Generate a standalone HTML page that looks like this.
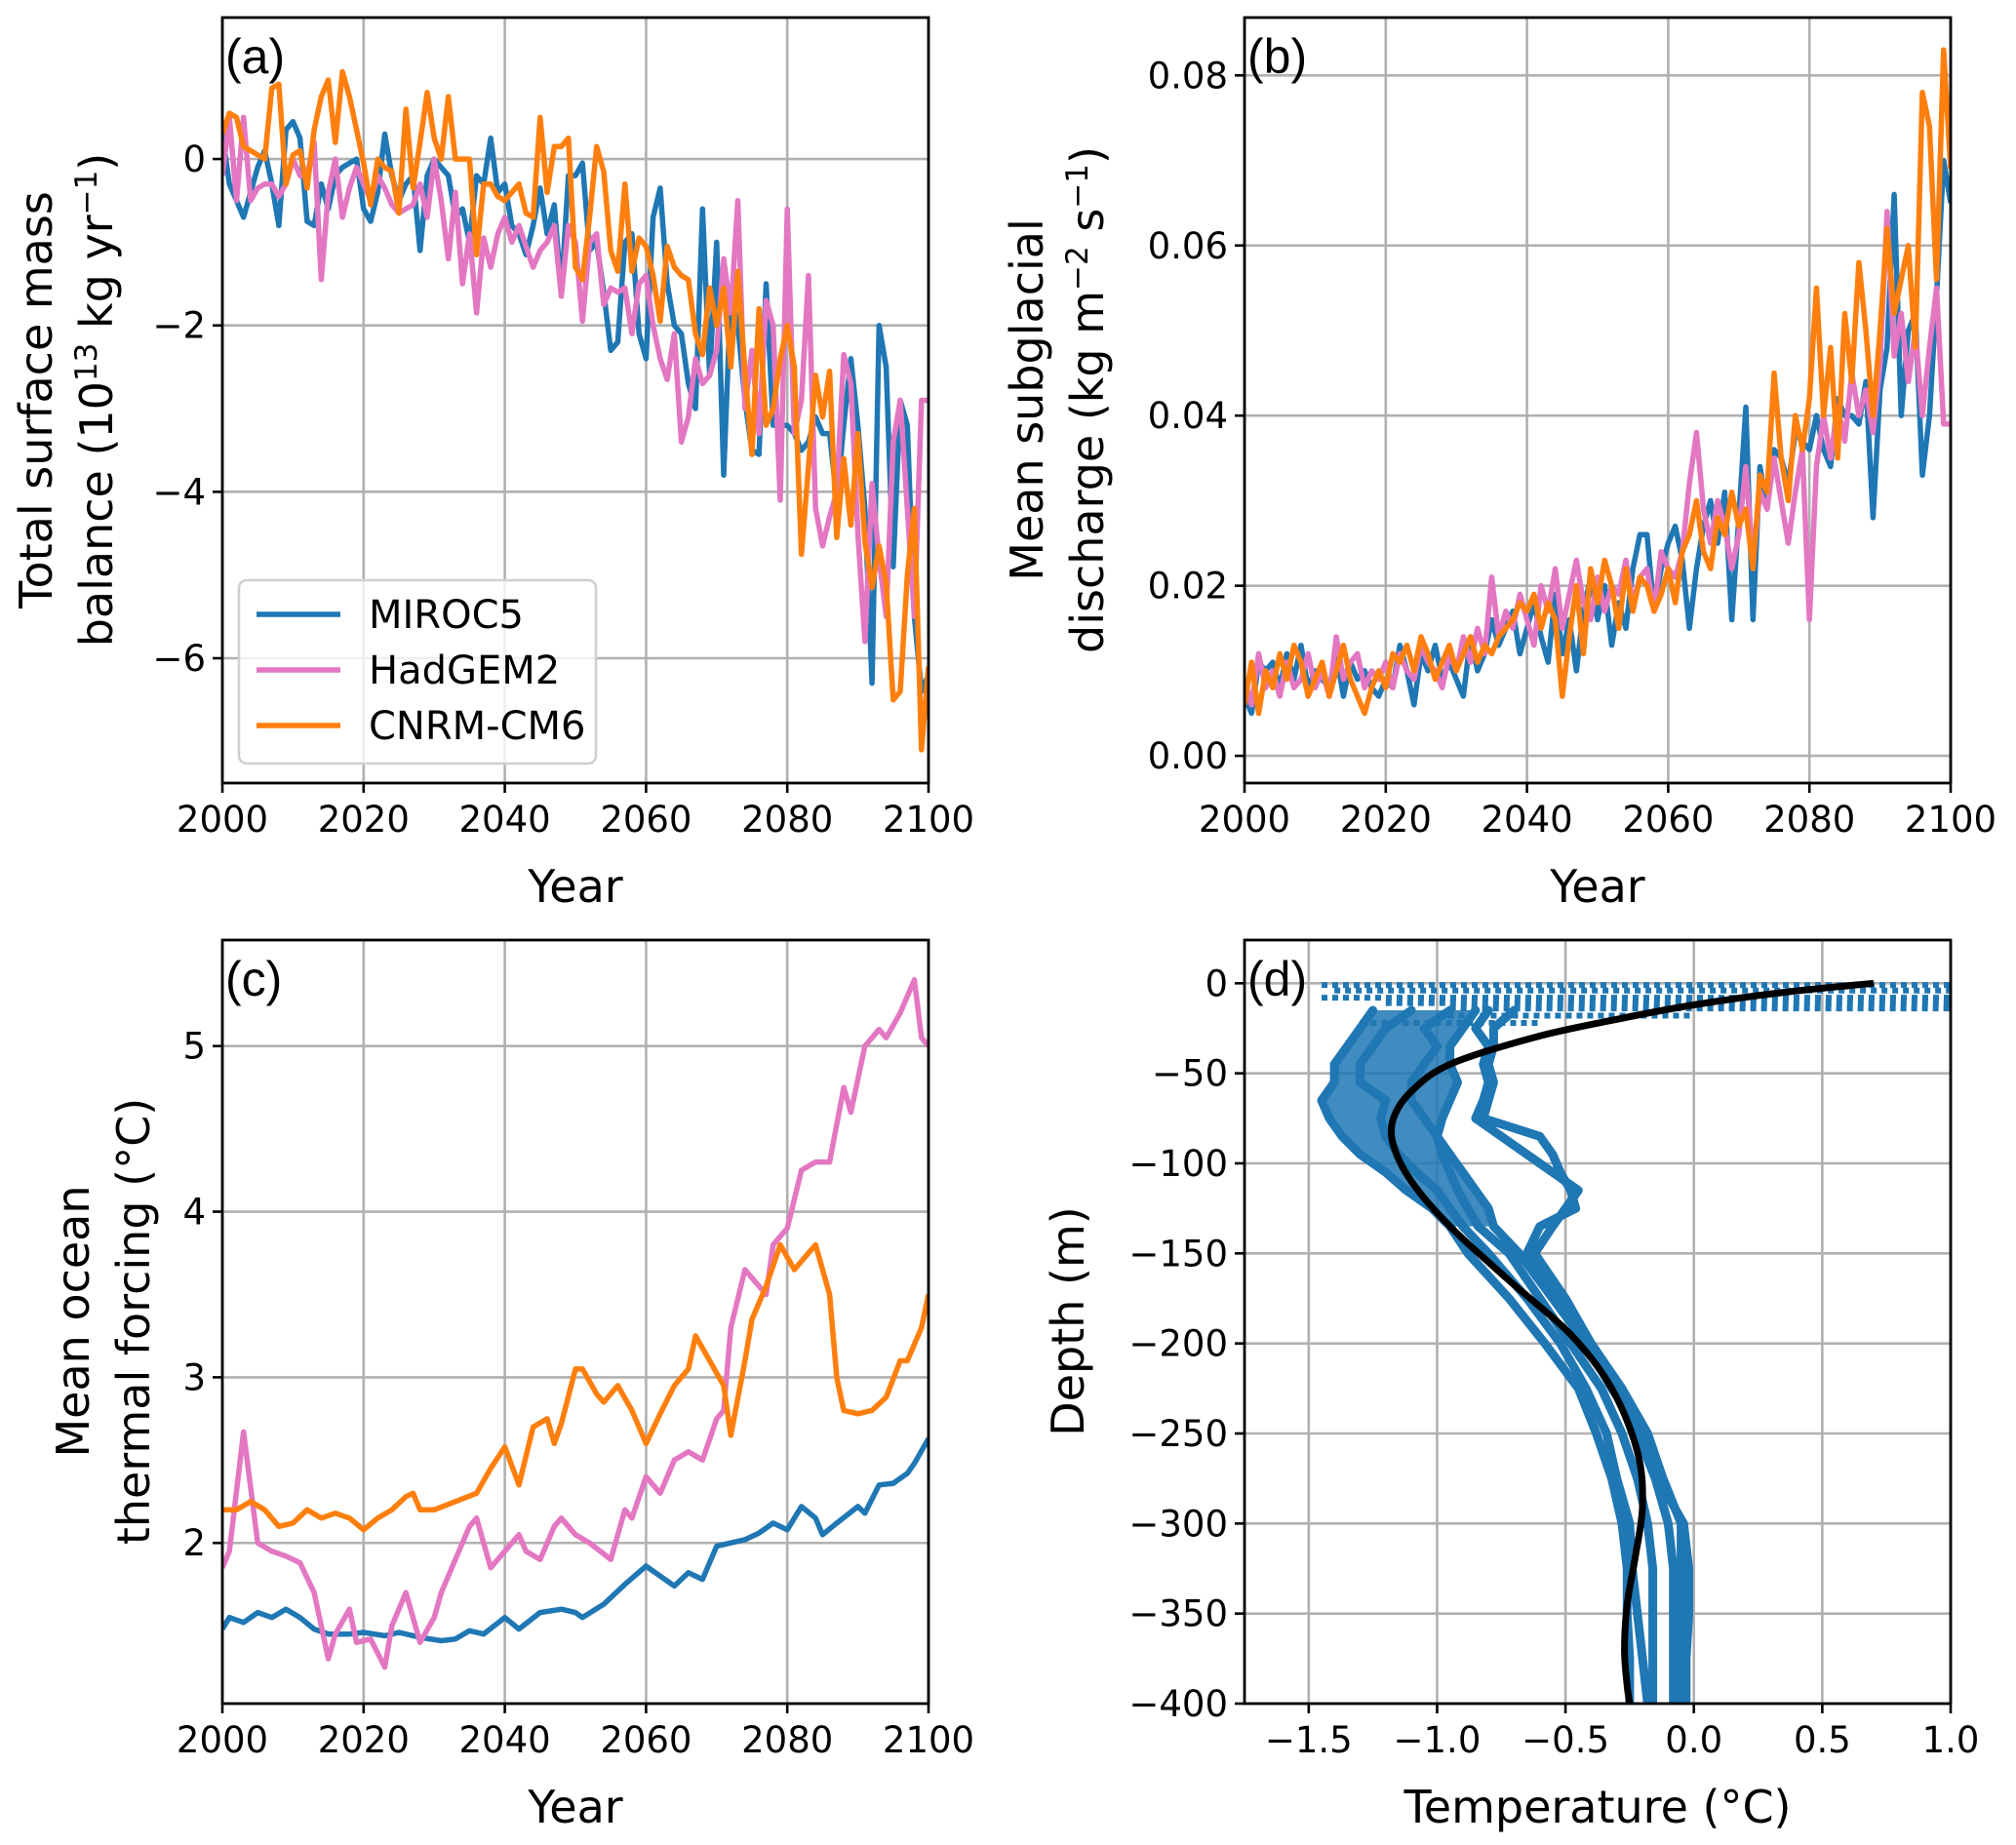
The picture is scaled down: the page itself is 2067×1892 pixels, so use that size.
<!DOCTYPE html>
<html><head><meta charset="utf-8">
<style>
html,body{margin:0;padding:0;background:#fff;}
svg{display:block;font-family:"DejaVu Sans","Liberation Sans",sans-serif;}
</style></head>
<body>
<svg id="fig" width="2067" height="1892" viewBox="0 0 2067 1892" xmlns="http://www.w3.org/2000/svg"></svg>
<script>
// ---------- DATA ----------
const years = [];
for (let y = 2000; y <= 2100; y++) years.push(y);
const seriesNames = ["MIROC5", "HadGEM2", "CNRM-CM6"];
const seriesColors = ["#1f77b4", "#e377c2", "#ff7f0e"];

// Panel (a) total SMB (1e13 kg/yr)
const smbMiroc = [0.3,-0.3,-0.5,-0.7,-0.4,-0.1,0.1,-0.3,-0.8,0.35,
0.45,0.25,-0.75,-0.8,-0.3,-0.6,-0.2,-0.1,-0.05,0.0,
-0.6,-0.75,-0.4,0.3,-0.2,-0.5,-0.3,-0.2,-1.1,-0.2,
0.0,-0.1,-0.2,-0.7,-0.6,-1.0,-0.2,-0.3,0.25,-0.4,
-0.3,-0.8,-0.9,-1.15,-0.8,-0.35,-0.9,-0.55,-1.6,-0.2,
-0.2,-0.05,-1.1,-1.0,-1.6,-2.3,-2.2,-1.0,-0.9,-2.1,
-2.4,-0.7,-0.35,-1.5,-2.0,-2.1,-2.7,-3.0,-0.6,-2.6,
-1.0,-3.8,-1.6,-2.0,-2.9,-3.5,-3.55,-1.5,-3.2,-3.2,
-3.2,-3.3,-3.5,-3.4,-3.1,-3.3,-3.3,-4.1,-3.2,-2.4,
-3.2,-4.2,-6.3,-2.0,-2.5,-4.9,-2.9,-3.2,-5.5,-6.4,-6.2];
const smbHad = [-0.2,0.5,-0.5,0.5,-0.5,-0.35,-0.3,-0.3,-0.45,-0.3,
0.0,-0.2,-0.2,0.2,-1.45,-0.4,0.0,-0.7,-0.35,-0.1,
-0.3,-0.5,-0.2,-0.35,-0.55,-0.65,-0.6,-0.55,-0.3,-0.7,
0.0,-0.5,-1.2,-0.4,-1.5,-0.9,-1.85,-0.95,-1.3,-0.9,
-0.7,-1.0,-0.8,-1.05,-1.3,-1.1,-1.0,-0.8,-1.65,-0.8,
-1.0,-1.95,-1.0,-0.9,-1.75,-1.55,-1.6,-1.55,-2.1,-1.5,
-1.4,-2.0,-2.4,-2.65,-2.1,-3.4,-3.1,-2.4,-2.7,-2.6,
-2.3,-1.2,-1.85,-0.5,-3.0,-2.3,-3.3,-1.7,-2.0,-4.1,
-0.6,-3.3,-2.9,-1.4,-4.2,-4.65,-4.3,-4.0,-2.35,-2.7,
-4.5,-5.8,-3.9,-4.8,-5.5,-3.4,-2.9,-4.2,-5.5,-2.9,-2.9];
const smbCnrm = [0.3,0.55,0.5,0.15,0.1,0.05,0.0,0.85,0.9,-0.3,
0.05,0.1,-0.35,0.35,0.75,0.95,0.2,1.05,0.75,0.35,
-0.05,-0.55,0.0,-0.1,-0.15,-0.65,0.6,-0.35,0.2,0.8,
0.25,0.0,0.75,0.0,0.0,0.0,-1.15,-0.3,-0.3,-0.45,
-0.5,-0.4,-0.3,-0.65,-0.7,0.5,-0.4,0.15,0.15,0.25,
-1.3,-1.45,-0.7,0.15,-0.15,-1.1,-1.35,-0.3,-1.35,-0.95,
-1.05,-1.4,-1.95,-1.05,-1.3,-1.4,-1.45,-2.1,-2.35,-1.55,
-2.0,-1.55,-2.5,-1.35,-2.55,-3.55,-1.8,-3.2,-3.0,-2.4,
-2.0,-2.5,-4.75,-3.7,-2.6,-3.1,-2.55,-4.55,-3.6,-4.4,
-3.3,-4.6,-5.15,-4.65,-5.1,-6.5,-6.4,-5.0,-4.2,-7.1,-6.1];

// Panel (b) mean subglacial discharge (kg m-2 s-1)
const qMiroc = [0.007,0.005,0.011,0.010,0.011,0.008,0.012,0.009,0.013,0.008,
0.010,0.009,0.008,0.012,0.007,0.011,0.009,0.010,0.008,0.007,
0.009,0.008,0.013,0.010,0.006,0.012,0.010,0.013,0.009,0.011,
0.009,0.007,0.014,0.010,0.012,0.016,0.013,0.015,0.017,0.012,
0.015,0.018,0.014,0.011,0.019,0.012,0.016,0.010,0.017,0.021,
0.016,0.020,0.013,0.018,0.015,0.022,0.026,0.026,0.017,0.022,
0.025,0.027,0.023,0.015,0.022,0.027,0.030,0.025,0.031,0.016,
0.028,0.041,0.016,0.034,0.029,0.036,0.035,0.032,0.038,0.037,
0.036,0.040,0.036,0.034,0.042,0.040,0.040,0.039,0.044,0.028,
0.043,0.048,0.066,0.040,0.050,0.052,0.033,0.040,0.054,0.070,0.065];
const qHad = [0.009,0.006,0.012,0.008,0.010,0.007,0.011,0.008,0.009,0.012,
0.008,0.010,0.007,0.014,0.009,0.011,0.012,0.008,0.010,0.009,
0.011,0.008,0.012,0.010,0.009,0.013,0.011,0.010,0.008,0.012,
0.010,0.014,0.011,0.015,0.012,0.021,0.014,0.017,0.015,0.019,
0.016,0.013,0.020,0.017,0.022,0.015,0.019,0.023,0.018,0.016,
0.021,0.017,0.020,0.019,0.023,0.018,0.021,0.022,0.017,0.024,
0.022,0.021,0.024,0.032,0.038,0.029,0.025,0.030,0.027,0.022,
0.026,0.034,0.023,0.031,0.029,0.035,0.030,0.025,0.031,0.036,
0.016,0.034,0.040,0.035,0.041,0.037,0.045,0.040,0.043,0.038,
0.046,0.064,0.047,0.052,0.044,0.050,0.040,0.048,0.055,0.039,0.039];
const qCnrm = [0.006,0.011,0.005,0.010,0.008,0.012,0.009,0.013,0.011,0.007,
0.009,0.011,0.007,0.010,0.013,0.009,0.007,0.005,0.008,0.010,
0.008,0.012,0.011,0.013,0.010,0.014,0.012,0.009,0.011,0.013,
0.010,0.012,0.014,0.011,0.013,0.012,0.014,0.015,0.016,0.018,
0.017,0.019,0.015,0.018,0.016,0.007,0.014,0.020,0.012,0.022,
0.018,0.023,0.020,0.015,0.022,0.017,0.021,0.020,0.017,0.019,
0.022,0.018,0.024,0.026,0.030,0.024,0.022,0.028,0.026,0.031,
0.027,0.029,0.022,0.033,0.031,0.045,0.035,0.030,0.040,0.036,
0.042,0.055,0.040,0.048,0.035,0.052,0.044,0.058,0.050,0.040,
0.050,0.062,0.052,0.056,0.060,0.048,0.078,0.074,0.056,0.083,0.069];

// Panel (c) thermal forcing (°C), sampled years
const tfMirocYears = [2000,2001,2003,2005,2007,2009,2011,2013,2015,2018,2020,2023,2025,2028,2031,2033,2035,2037,2040,2042,2045,2048,2050,2051,2054,2057,2060,2062,2064,2066,2068,2070,2072,2074,2076,2078,2080,2082,2084,2085,2087,2090,2091,2093,2095,2097,2098,2100];
const tfMiroc = [1.48,1.55,1.52,1.58,1.55,1.6,1.55,1.48,1.45,1.45,1.46,1.44,1.46,1.43,1.41,1.42,1.47,1.45,1.55,1.48,1.58,1.6,1.58,1.55,1.63,1.75,1.86,1.8,1.74,1.82,1.78,1.98,2.0,2.02,2.06,2.12,2.08,2.22,2.15,2.05,2.12,2.22,2.18,2.35,2.36,2.42,2.48,2.63];
const tfHadYears = [2000,2001,2003,2005,2007,2009,2011,2013,2015,2016,2018,2019,2021,2023,2024,2026,2028,2030,2031,2033,2035,2036,2038,2040,2042,2043,2045,2047,2048,2050,2052,2055,2057,2058,2060,2062,2064,2066,2068,2070,2071,2072,2074,2075,2077,2078,2080,2082,2084,2086,2088,2089,2091,2093,2094,2096,2098,2099,2100];
const tfHad = [1.85,1.95,2.67,2.0,1.95,1.92,1.88,1.7,1.3,1.45,1.6,1.4,1.42,1.25,1.5,1.7,1.4,1.55,1.7,1.9,2.1,2.15,1.85,1.95,2.05,1.95,1.9,2.1,2.15,2.05,2.0,1.9,2.2,2.15,2.4,2.3,2.5,2.55,2.5,2.75,2.8,3.3,3.65,3.6,3.5,3.8,3.9,4.25,4.3,4.3,4.75,4.6,5.0,5.1,5.05,5.2,5.4,5.05,5.0];
const tfCnrmYears = [2000,2002,2004,2006,2008,2010,2012,2014,2016,2018,2020,2022,2024,2026,2027,2028,2030,2033,2036,2038,2040,2042,2044,2046,2047,2048,2050,2051,2053,2054,2056,2058,2060,2062,2064,2066,2067,2069,2071,2072,2074,2075,2077,2079,2081,2083,2084,2086,2087,2088,2090,2092,2094,2096,2097,2099,2100];
const tfCnrm = [2.2,2.2,2.25,2.2,2.1,2.12,2.2,2.15,2.18,2.15,2.08,2.15,2.2,2.28,2.3,2.2,2.2,2.25,2.3,2.45,2.58,2.35,2.7,2.75,2.6,2.72,3.05,3.05,2.9,2.85,2.95,2.8,2.6,2.78,2.95,3.05,3.25,3.1,2.95,2.65,3.1,3.35,3.55,3.8,3.65,3.75,3.8,3.5,3.0,2.8,2.78,2.8,2.88,3.1,3.1,3.3,3.5];

// Panel (d) temperature profiles (depth m, temp °C)
const fitDepth = [0,-5,-12,-20,-30,-45,-60,-75,-90,-110,-135,-165,-195,-225,-260,-290,-320,-345,-370,-390,-400];
const fitTemp = [0.7,0.35,0.0,-0.3,-0.62,-0.95,-1.1,-1.17,-1.17,-1.1,-0.95,-0.72,-0.48,-0.32,-0.22,-0.2,-0.23,-0.26,-0.27,-0.26,-0.25];
const profDepth = [-15,-25,-35,-45,-55,-65,-75,-85,-95,-105,-115,-125,-135,-150,-175,-200,-225,-250,-275,-300,-325,-350,-375,-400];
const prof1 = [-1.25,-1.3,-1.35,-1.4,-1.4,-1.45,-1.42,-1.37,-1.3,-1.2,-1.12,-1.02,-0.95,-0.88,-0.72,-0.58,-0.45,-0.38,-0.32,-0.28,-0.26,-0.26,-0.25,-0.25];
const prof2 = [-1.1,-1.2,-1.25,-1.3,-1.3,-1.2,-1.22,-1.2,-1.15,-1.08,-1.0,-0.95,-0.9,-0.8,-0.65,-0.52,-0.42,-0.34,-0.3,-0.25,-0.24,-0.22,-0.2,-0.18];
const prof3 = [-0.95,-1.05,-1.0,-1.05,-1.1,-1.1,-1.05,-1.0,-0.98,-0.95,-0.92,-0.88,-0.84,-0.72,-0.6,-0.48,-0.36,-0.28,-0.22,-0.18,-0.16,-0.16,-0.16,-0.16];
const prof4 = [-0.85,-0.9,-0.95,-0.95,-0.92,-0.95,-0.98,-1.0,-0.95,-0.9,-0.85,-0.8,-0.78,-0.68,-0.55,-0.42,-0.3,-0.22,-0.15,-0.1,-0.08,-0.08,-0.08,-0.08];
const prof5 = [-0.8,-0.85,-0.8,-0.82,-0.8,-0.82,-0.85,-0.75,-0.65,-0.55,-0.45,-0.5,-0.55,-0.62,-0.5,-0.4,-0.28,-0.18,-0.12,-0.05,-0.05,-0.05,-0.05,-0.05];
const prof6 = [-0.7,-0.78,-0.78,-0.8,-0.78,-0.8,-0.82,-0.6,-0.55,-0.52,-0.48,-0.46,-0.6,-0.65,-0.52,-0.42,-0.32,-0.2,-0.14,-0.04,-0.02,-0.02,-0.03,-0.03];
const surfDepth = [-1,-4,-8,-11,-14,-18,-22];
const surfTmin = [-1.45,-1.4,-1.45,-1.2,-0.95,-1.0,-1.3];
const surfTmax = [1.0,1.0,1.0,1.0,1.0,0.0,-0.6];

// ---------- HELPERS ----------
const NS = "http://www.w3.org/2000/svg";
const svg = document.getElementById("fig");
function mk(tag, attrs, parent) {
  const e = document.createElementNS(NS, tag);
  for (const k in attrs) e.setAttribute(k, attrs[k]);
  (parent || svg).appendChild(e);
  return e;
}
function scale(d0, d1, r0, r1) { return v => r0 + (v - d0) / (d1 - d0) * (r1 - r0); }
const GRID = "#b0b0b0", TICKFS = 37, LABFS = 46, LW = 5.5;

function axes(p) {
  const g = mk("g", {});
  
  
  p.xticks.forEach(t => {
    const x = p.sx(t);
    const l = mk("line", {x1:x, x2:x, y1:p.top, y2:p.bot, stroke:GRID, "stroke-width":2.6}, g);
    
    
  });
  p.yticks.forEach(t => {
    const y = p.sy(t);
    const l = mk("line", {x1:p.left, x2:p.right, y1:y, y2:y, stroke:GRID, "stroke-width":2.6}, g);
    
    
  });
  return g;
}
function frame(p, g) {
  const r = mk("rect", {x:p.left, y:p.top, width:p.right-p.left, height:p.bot-p.top, fill:"none", stroke:"#000", "stroke-width":2.8}, g);
  
  
  p.xticks.forEach((t, i) => {
    const x = p.sx(t);
    mk("line", {x1:x, x2:x, y1:p.bot, y2:p.bot+10, stroke:"#000", "stroke-width":2.6}, g);
    const tx = mk("text", {x:x, y:p.bot+50, "font-size":TICKFS, "text-anchor":"middle"}, g);
    tx.textContent = p.xlabels[i];
    
    
  });
  p.yticks.forEach((t, i) => {
    const y = p.sy(t);
    mk("line", {x1:p.left-10, x2:p.left, y1:y, y2:y, stroke:"#000", "stroke-width":2.6}, g);
    const tx = mk("text", {x:p.left-17, y:y+13, "font-size":TICKFS, "text-anchor":"end"}, g);
    tx.textContent = p.ylabels[i];
    
    
  });
  const pl = mk("text", {x:p.left+3, y:p.top+57, "font-size":50, "font-family":"Liberation Sans, sans-serif"}, g);
  pl.textContent = p.panel;
  
  
}
function xlabel(p, g, txt) {
  const t = mk("text", {x:(p.left+p.right)/2, y:p.bot+122, "font-size":LABFS, "text-anchor":"middle"}, g);
  t.textContent = txt;
  
  
}
function ylabel(g, x, cy, parts) {
  const t = mk("text", {x:0, y:0, "font-size":LABFS, "text-anchor":"middle", transform:`translate(${x},${cy}) rotate(-90)`}, g);
  
  
  parts.forEach(pt => {
    const s = mk("tspan", pt.sup ? {"font-size":31, dy:pt.dy} : (pt.dy ? {dy:pt.dy} : {}), t);
    s.textContent = pt.t;
  });
}
function line(g, xs, ys, p, color, w, name) {
  const pts = xs.map((x, i) => p.sx(x).toFixed(1) + "," + p.sy(ys[i]).toFixed(1)).join(" ");
  const pl = mk("polyline", {points:pts, fill:"none", stroke:color, "stroke-width":w, "stroke-linejoin":"round", "stroke-linecap":"butt"}, g);
  
  
  return pl;
}
function smoothPath(pts) {
  let d = "M" + pts[0][0].toFixed(1) + "," + pts[0][1].toFixed(1);
  for (let i = 0; i < pts.length - 1; i++) {
    const p0 = pts[Math.max(0, i-1)], p1 = pts[i], p2 = pts[i+1], p3 = pts[Math.min(pts.length-1, i+2)];
    const c1 = [p1[0] + (p2[0]-p0[0])/6, p1[1] + (p2[1]-p0[1])/6];
    const c2 = [p2[0] - (p3[0]-p1[0])/6, p2[1] - (p3[1]-p1[1])/6];
    d += " C" + c1.map(v=>v.toFixed(1)).join(",") + " " + c2.map(v=>v.toFixed(1)).join(",") + " " + p2.map(v=>v.toFixed(1)).join(",");
  }
  return d;
}
function clipFor(p, id) {
  const defs = mk("defs", {});
  const cp = mk("clipPath", {id:id}, defs);
  mk("rect", {x:p.left, y:p.top, width:p.right-p.left, height:p.bot-p.top}, cp);
}
const yearTicks = [2000,2020,2040,2060,2080,2100];
const yearLabels = yearTicks.map(String);

// ---------- PANEL A ----------
const pA = {name:"panel-a", panel:"(a)", left:228, right:952, top:18, bot:803,
  sx: scale(2000,2100,228,952), sy: scale(-7.5,1.7,803,18),
  xticks: yearTicks, xlabels: yearLabels, yticks:[0,-2,-4,-6], ylabels:["0","\u22122","\u22124","\u22126"]};
{
  const g = axes(pA); clipFor(pA, "cA");
  const gl = mk("g", {"clip-path":"url(#cA)"}, g);
  line(gl, years, smbMiroc, pA, seriesColors[0], LW, "miroc5-smb-line");
  line(gl, years, smbHad, pA, seriesColors[1], LW, "hadgem2-smb-line");
  line(gl, years, smbCnrm, pA, seriesColors[2], LW, "cnrm-cm6-smb-line");
  frame(pA, g);
  xlabel(pA, g, "Year");
  ylabel(g, 53, 410, [{t:"Total surface mass"}]);
  ylabel(g, 115, 410, [{t:"balance (10"},{t:"13",sup:true,dy:-16},{t:" kg yr",dy:16},{t:"\u22121",sup:true,dy:-16},{t:")",dy:16}]);
  const lg = mk("g", {}, g);
  
  
  mk("rect", {x:245, y:595, width:366, height:188, rx:8, fill:"#fff", "fill-opacity":0.8, stroke:"#d0d0d0", "stroke-width":2.6}, lg);
  seriesNames.forEach((n, i) => {
    const y = 630 + i*57;
    const e = mk("g", {}, lg);
    
    
    mk("line", {x1:263, x2:349, y1:y, y2:y, stroke:seriesColors[i], "stroke-width":LW}, e);
    const t = mk("text", {x:378, y:y+14, "font-size":40}, e);
    t.textContent = n;
  });
}

// ---------- PANEL B ----------
const pB = {name:"panel-b", panel:"(b)", left:1276, right:2000, top:18, bot:803,
  sx: scale(2000,2100,1276,2000), sy: scale(-0.0032,0.0868,803,18),
  xticks: yearTicks, xlabels: yearLabels, yticks:[0,0.02,0.04,0.06,0.08], ylabels:["0.00","0.02","0.04","0.06","0.08"]};
{
  const g = axes(pB); clipFor(pB, "cB");
  const gl = mk("g", {"clip-path":"url(#cB)"}, g);
  line(gl, years, qMiroc, pB, seriesColors[0], LW, "miroc5-discharge-line");
  line(gl, years, qHad, pB, seriesColors[1], LW, "hadgem2-discharge-line");
  line(gl, years, qCnrm, pB, seriesColors[2], LW, "cnrm-cm6-discharge-line");
  frame(pB, g);
  xlabel(pB, g, "Year");
  ylabel(g, 1069, 410, [{t:"Mean subglacial"}]);
  ylabel(g, 1131, 410, [{t:"discharge (kg m"},{t:"\u22122",sup:true,dy:-16},{t:" s",dy:16},{t:"\u22121",sup:true,dy:-16},{t:")",dy:16}]);
}

// ---------- PANEL C ----------
const pC = {name:"panel-c", panel:"(c)", left:228, right:952, top:964, bot:1747,
  sx: scale(2000,2100,228,952), sy: scale(1.03,5.64,1747,964),
  xticks: yearTicks, xlabels: yearLabels, yticks:[2,3,4,5], ylabels:["2","3","4","5"]};
{
  const g = axes(pC); clipFor(pC, "cC");
  const gl = mk("g", {"clip-path":"url(#cC)"}, g);
  line(gl, tfMirocYears, tfMiroc, pC, seriesColors[0], LW, "miroc5-thermal-forcing-line");
  line(gl, tfHadYears, tfHad, pC, seriesColors[1], LW, "hadgem2-thermal-forcing-line");
  line(gl, tfCnrmYears, tfCnrm, pC, seriesColors[2], LW, "cnrm-cm6-thermal-forcing-line");
  frame(pC, g);
  xlabel(pC, g, "Year");
  ylabel(g, 91, 1355, [{t:"Mean ocean"}]);
  ylabel(g, 153, 1355, [{t:"thermal forcing (\u00b0C)"}]);
}

// ---------- PANEL D ----------
const pD = {name:"panel-d", panel:"(d)", left:1276, right:2000, top:964, bot:1747,
  sx: scale(-1.75,1.0,1276,2000), sy: scale(-400,24,1747,964),
  xticks:[-1.5,-1.0,-0.5,0,0.5,1.0], xlabels:["\u22121.5","\u22121.0","\u22120.5","0.0","0.5","1.0"],
  yticks:[0,-50,-100,-150,-200,-250,-300,-350,-400], ylabels:["0","\u221250","\u2212100","\u2212150","\u2212200","\u2212250","\u2212300","\u2212350","\u2212400"]};
{
  const g = axes(pD); clipFor(pD, "cD");
  const gl = mk("g", {"clip-path":"url(#cD)"}, g);
  const gs = mk("g", {}, gl);
  
  
  const blob = [];
  prof1.forEach((t, i) => { if (profDepth[i] >= -140) blob.push(pD.sx(t).toFixed(1) + "," + pD.sy(profDepth[i]).toFixed(1)); });
  for (let i = prof4.length - 1; i >= 0; i--) { if (profDepth[i] >= -140) blob.push(pD.sx(prof4[i]).toFixed(1) + "," + pD.sy(profDepth[i]).toFixed(1)); }
  const bp = mk("polygon", {points:blob.join(" "), fill:"#1f77b4", "fill-opacity":0.85}, gs);
  
  
  [prof1,prof2,prof3,prof4,prof5,prof6].forEach((pr, k) => {
    const pts = pr.map((t, i) => pD.sx(t).toFixed(1) + "," + pD.sy(profDepth[i]).toFixed(1)).join(" ");
    const pl = mk("polyline", {points:pts, fill:"none", stroke:"#1f77b4", "stroke-width":9, "stroke-linejoin":"round", "stroke-linecap":"round"}, gs);
    
    
  });
  surfDepth.forEach((d, i) => {
    const l = mk("line", {x1:pD.sx(surfTmin[i]), x2:pD.sx(surfTmax[i]), y1:pD.sy(d), y2:pD.sy(d), stroke:"#1f77b4", "stroke-width":6, "stroke-dasharray":"6 5"}, gs);
    
    
  });
  const fitPts = fitTemp.map((t, i) => [pD.sx(t), pD.sy(fitDepth[i])]);
  const fp = mk("path", {d:smoothPath(fitPts), fill:"none", stroke:"#000", "stroke-width":7, "stroke-linecap":"butt"}, gl);
  
  
  frame(pD, g);
  const t = mk("text", {x:(pD.left+pD.right)/2, y:pD.bot+122, "font-size":LABFS, "text-anchor":"middle"}, g);
  t.textContent = "Temperature (\u00b0C)";
  
  
  ylabel(g, 1111, 1355, [{t:"Depth (m)"}]);
}
</script>
</body></html>
